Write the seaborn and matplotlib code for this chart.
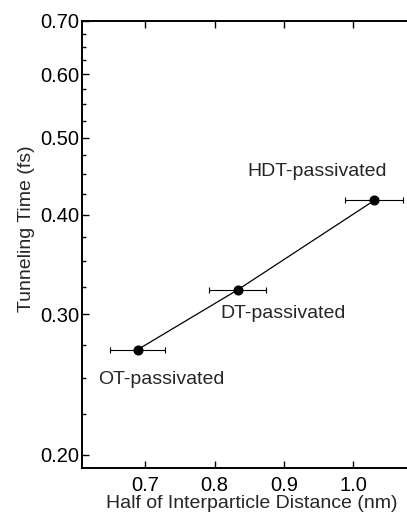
import matplotlib
matplotlib.use("Agg")
import matplotlib.pyplot as plt
import matplotlib.ticker as mticker
import numpy as np
import pandas as pd
import seaborn as sns

# data
labels = ["OT-passivated", "DT-passivated", "HDT-passivated"]
half_distance = [0.689, 0.833, 1.030]
distance_err = [0.039, 0.041, 0.042]
tunneling_time = [0.271, 0.322, 0.417]
y_ticks = [0.20, 0.30, 0.40, 0.50, 0.60, 0.70]
x_ticks = [0.7, 0.8, 0.9, 1.0]

sns.set_theme(style="ticks")
plt.rcParams["font.family"] = ["Liberation Sans", "DejaVu Sans"]

df = pd.DataFrame({"x": half_distance, "y": tunneling_time, "label": labels})

fig = plt.figure(figsize=(4.07, 5.15), dpi=100)
ax = fig.add_axes([0.2015, 0.0913, 0.80, 0.868])

sns.lineplot(data=df, x="x", y="y", ax=ax, color="black", linewidth=0.9,
             marker="o", markersize=6.5, markeredgecolor="black", sort=False)
ax.errorbar(df["x"], df["y"], xerr=distance_err, fmt="none", ecolor="black",
            elinewidth=0.8, capsize=2.5, capthick=0.8)

ax.set_yscale("log")
ax.set_ylim(0.1926, 0.70)
ax.set_xlim(0.609, 1.078)
ax.yaxis.set_major_locator(mticker.FixedLocator(y_ticks))
ax.yaxis.set_major_formatter(mticker.FormatStrFormatter("%.2f"))
ax.yaxis.set_minor_locator(mticker.FixedLocator(np.arange(0.2, 0.70, 0.025)))
ax.yaxis.set_minor_formatter(mticker.NullFormatter())
ax.set_xticks(x_ticks)
ax.xaxis.set_major_formatter(mticker.FormatStrFormatter("%.1f"))

ax.tick_params(which="both", direction="in", top=True, right=False,
               labelsize=14.5, width=1.0, colors="black")
ax.tick_params(which="major", length=5)
ax.tick_params(which="minor", length=3)
ax.tick_params(axis="x", pad=6)
ax.tick_params(axis="y", pad=2)
for side in ["left", "bottom", "top"]:
    ax.spines[side].set_linewidth(1.4)
    ax.spines[side].set_color("black")
ax.spines["right"].set_visible(False)

ax.set_xlabel("Half of Interparticle Distance (nm)", fontsize=14)
ax.set_ylabel("Tunneling Time (fs)", fontsize=14)
ax.xaxis.set_label_coords(0.52, -0.06)
ax.yaxis.set_label_coords(-0.145, 0.535)

offsets = [(24, -30), (46, -24), (-57, 29)]
for (lab, xv, yv), off in zip(zip(labels, half_distance, tunneling_time), offsets):
    ax.annotate(lab, (xv, yv), xytext=off, textcoords="offset pixels",
                ha="center", va="center", fontsize=14)

fig.savefig("out.png", dpi=100)
